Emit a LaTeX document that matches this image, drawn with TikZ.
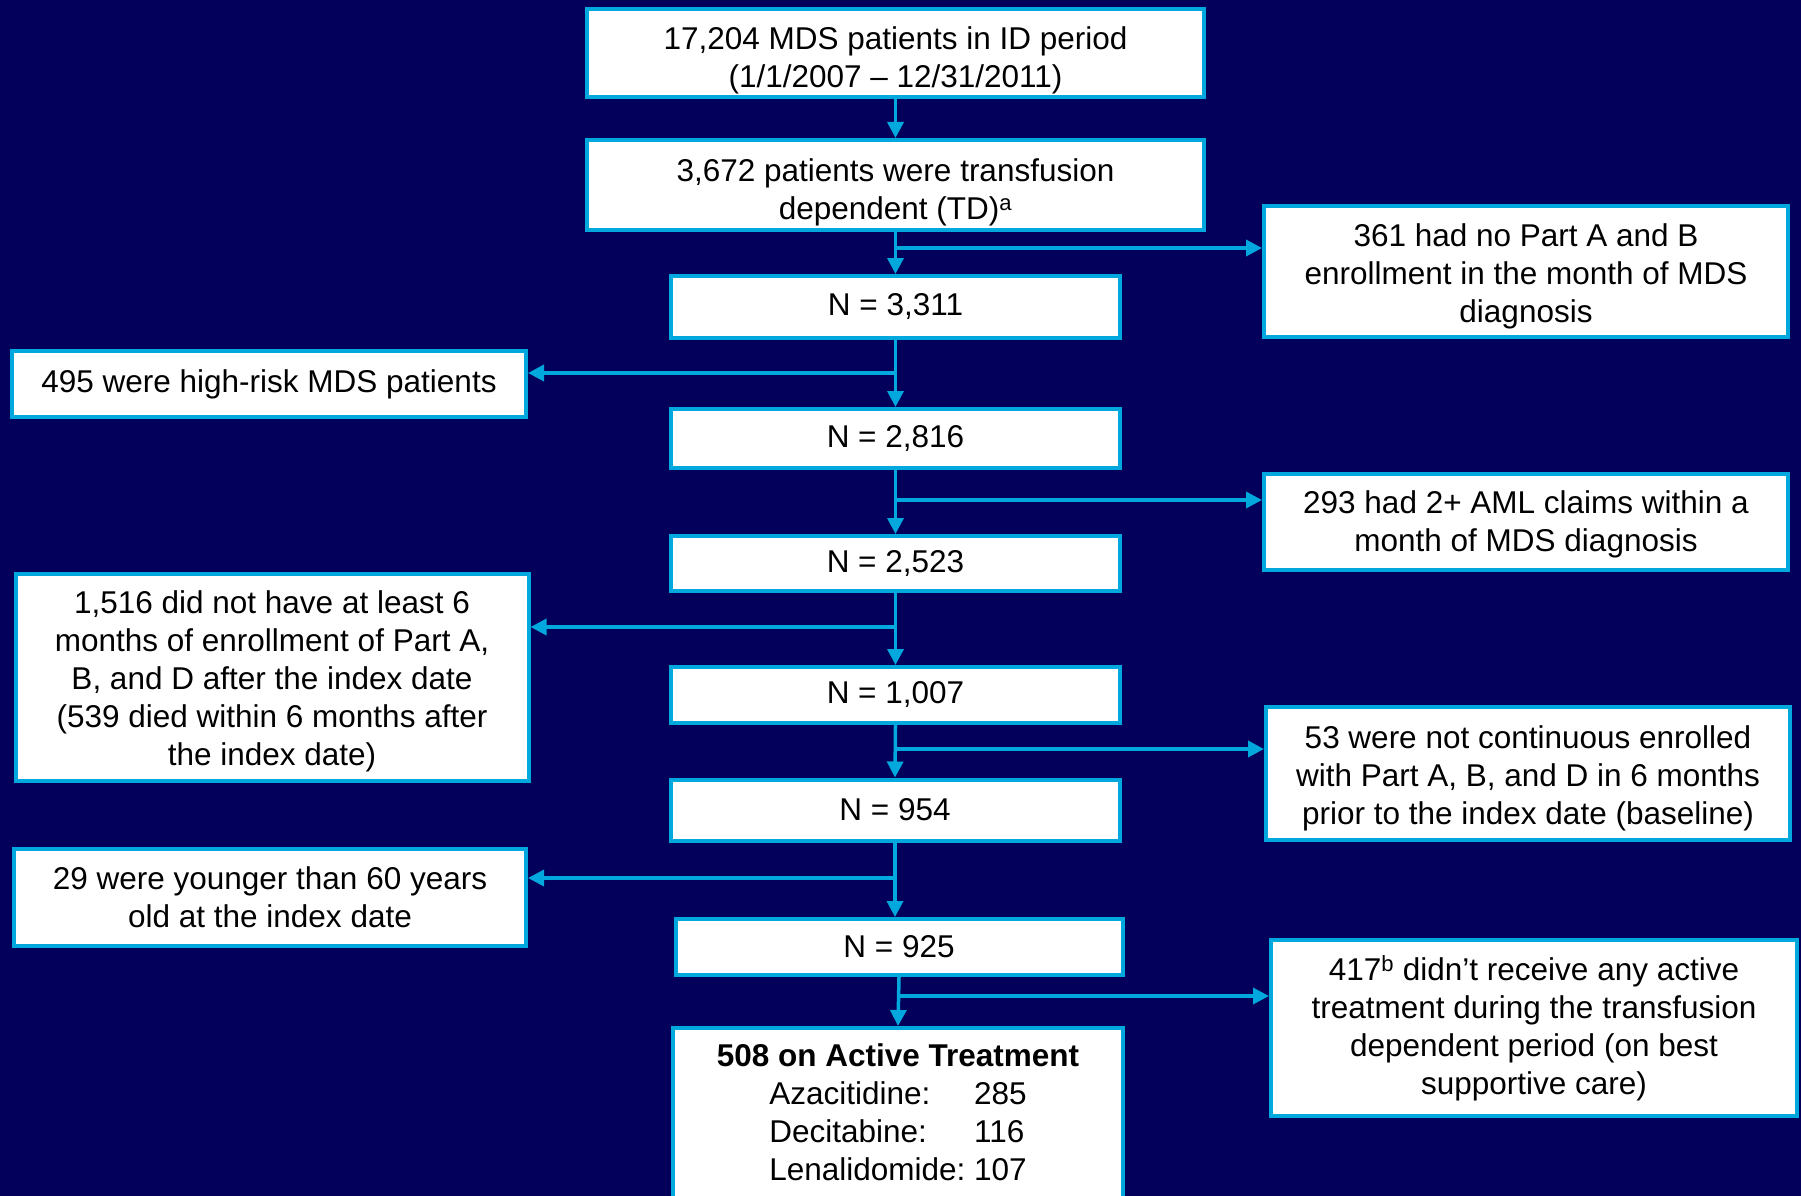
\documentclass[tikz,border=0pt]{standalone}
\usepackage{fontspec}
\setmainfont{Liberation Sans}
\usetikzlibrary{arrows.meta}

\definecolor{bgnavy}{RGB}{2,0,90}
\definecolor{boxblue}{RGB}{0,168,222}

% extra room above the first line of a box
\newcommand{\topgap}[1]{\rule{0pt}{#1}}

\tikzset{
	box/.style={draw=boxblue, line width=4pt, fill=white, text=black, align=center, inner sep=0pt, font=\fontsize{31.5}{38}\selectfont},
	flow/.style={draw=boxblue, line width=3.5pt, -{Triangle[length=16pt, width=16pt]}}
}

\begin{document}
\begin{tikzpicture}[x=1pt, y=-1pt]
		% background
		\fill[bgnavy] (0, 0) rectangle (1801, 1196);
		\clip (0, 0) rectangle (1801, 1196);

		% main column
		\node[box, minimum width=617, minimum height=88] (id) at (895.5, 53) {\topgap{37pt}17,204 MDS patients in ID period\\(1/1/2007 – 12/31/2011)};
		\node[box, minimum width=617, minimum height=90] (td) at (895.5, 185) {\topgap{37pt}3,672 patients were transfusion\\dependent (TD)\textsuperscript{a}};
		\node[box, minimum width=449, minimum height=62] (n1) at (895.5, 307) {N = 3,311};
		\node[box, minimum width=449, minimum height=59] (n2) at (895.5, 438.5) {N = 2,816};
		\node[box, minimum width=449, minimum height=55] (n3) at (895.5, 563.5) {N = 2,523};
		\node[box, minimum width=449, minimum height=56] (n4) at (895.5, 695) {N = 1,007};
		\node[box, minimum width=449, minimum height=61] (n5) at (895, 810) {N = 954};
		\node[box, minimum width=447, minimum height=56] (n6) at (899, 947) {N = 925};
		\node[box, minimum width=450, minimum height=173] (act) at (898, 1114.5) {\topgap{30pt}\textbf{508 on Active Treatment}\\\begin{tabular}[t]{@{}l@{\ }l@{}}Azacitidine: & 285\\Decitabine: & 116\\Lenalidomide: & 107\end{tabular}};

		% excluded, right
		\node[box, minimum width=524, minimum height=131] (r1) at (1526, 271.5) {\topgap{32pt}361 had no Part A and B\\enrollment in the month of MDS\\diagnosis};
		\node[box, minimum width=524, minimum height=96] (r2) at (1526, 522) {\topgap{28pt}293 had 2+ AML claims within a\\month of MDS diagnosis};
		\node[box, minimum width=524, minimum height=133] (r3) at (1528, 773.5) {\topgap{32pt}53 were not continuous enrolled\\with Part A, B, and D in 6 months\\prior to the index date (baseline)};
		\node[box, minimum width=526, minimum height=176] (r4) at (1534, 1028) {417\textsuperscript{b} didn’t receive any active\\treatment during the transfusion\\dependent period (on best\\supportive care)};

		% excluded, left
		\node[box, minimum width=514, minimum height=66] (l1) at (269, 384) {495 were high-risk MDS patients};
		\node[box, minimum width=513, minimum height=207] (l2) at (272, 677) {\topgap{32pt}1,516 did not have at least 6\\months of enrollment of Part A,\\B, and D after the index date\\(539 died within 6 months after\\the index date)};
		\node[box, minimum width=512, minimum height=97] (l3) at (270, 897) {29 were younger than 60 years\\old at the index date};

		% junctions on the main line
		\coordinate (j1) at (895.5, 248);
		\coordinate (j2) at (895.5, 373);
		\coordinate (j3) at (895.5, 500);
		\coordinate (j4) at (895.5, 627);
		\coordinate (j5) at (895.5, 749);
		\coordinate (j6) at (895, 878);
		\coordinate (j7) at (899, 996);

		% main flow
		\draw[flow] (id.south) -- (td.north);
		\draw[flow] (td.south) -- (n1.north);
		\draw[flow] (n1.south) -- (n2.north);
		\draw[flow] (n2.south) -- (n3.north);
		\draw[flow] (n3.south) -- (n4.north);
		\draw[flow] (n4.south) -- (n5.north);
		\draw[flow] (n5.south) -- (n5.south |- n6.north);
		\draw[flow] (n6.south) -- (act.north);

		% exclusions
		\draw[flow] (j1) -- (j1 -| r1.west);
		\draw[flow] (j2) -- (j2 -| l1.east);
		\draw[flow] (j3) -- (j3 -| r2.west);
		\draw[flow] (j4) -- (j4 -| l2.east);
		\draw[flow] (j5) -- (j5 -| r3.west);
		\draw[flow] (j6) -- (j6 -| l3.east);
		\draw[flow] (j7) -- (j7 -| r4.west);
\end{tikzpicture}
\end{document}
